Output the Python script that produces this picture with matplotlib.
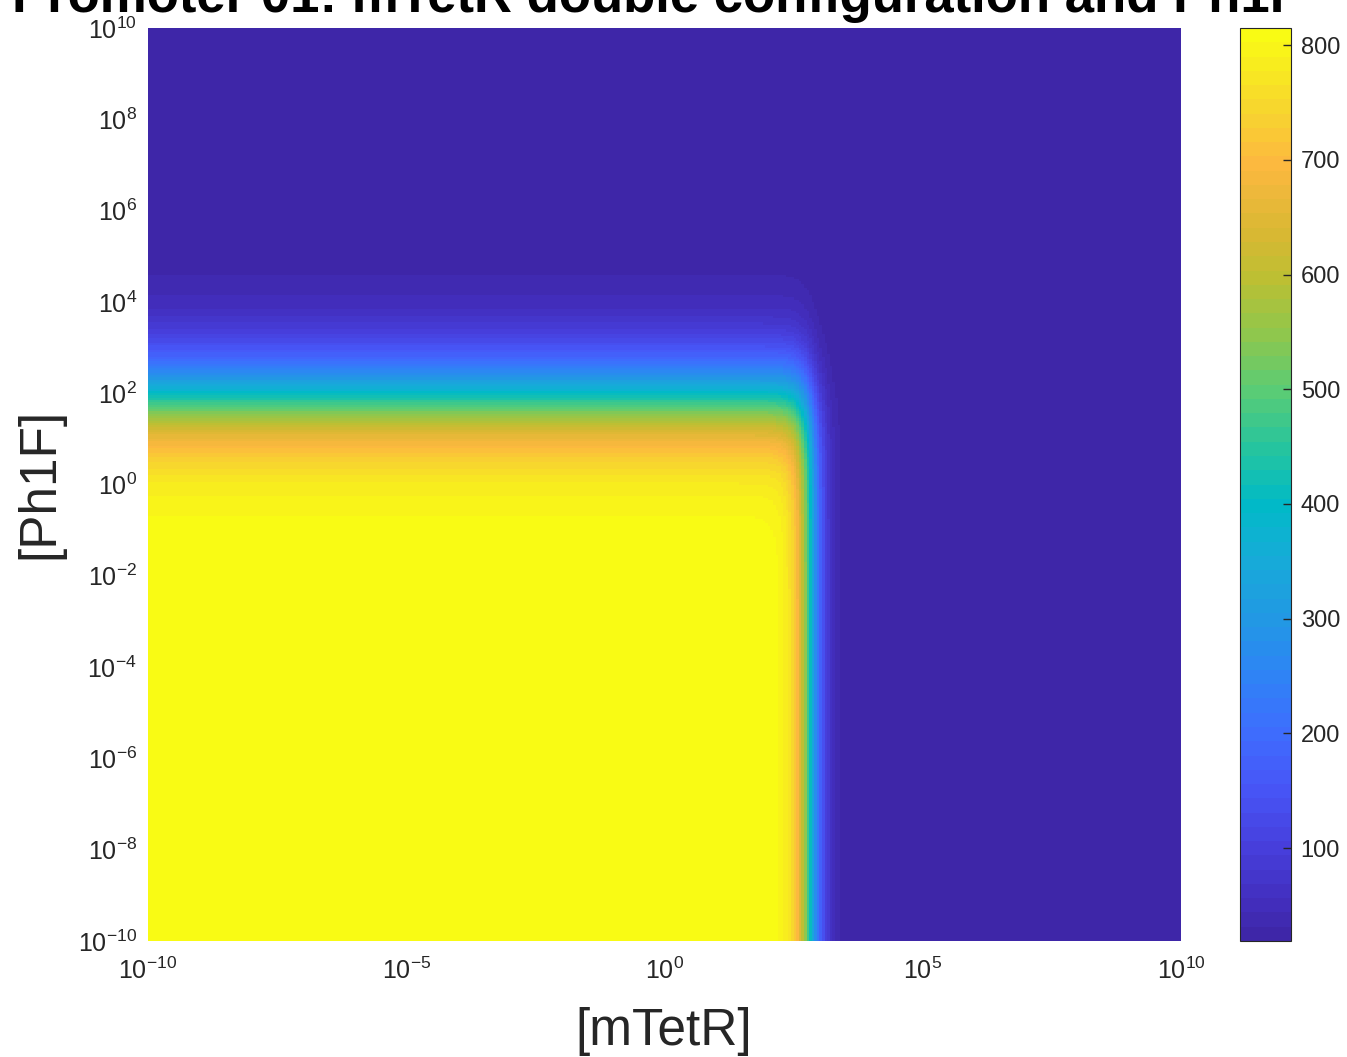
import numpy as np
import matplotlib.pyplot as plt
from matplotlib.colors import LinearSegmentedColormap

plt.rcParams['font.family'] = ['Liberation Sans', 'DejaVu Sans']
plt.rcParams['mathtext.fontset'] = 'custom'
plt.rcParams['mathtext.rm'] = 'Liberation Sans'

# response model (Hill repression in both inputs)
f_min = 19.0
f_max = 815.0
log_K_mtetr = 2.82
n_mtetr = 3.0
log_K_ph1f = 1.95
n_ph1f = 0.68

log_range = [-10, 10]
x_ticks = [1e-10, 1e-5, 1e0, 1e5, 1e10]
x_ticklabels = [r'$\mathregular{10^{-10}}$', r'$\mathregular{10^{-5}}$', r'$\mathregular{10^{0}}$',
                r'$\mathregular{10^{5}}$', r'$\mathregular{10^{10}}$']
y_ticks = [10.0 ** k for k in range(-10, 11, 2)]
y_ticklabels = [r'$\mathregular{10^{%d}}$' % k for k in range(-10, 11, 2)]
cbar_ticks = [100, 200, 300, 400, 500, 600, 700, 800]

title = 'Promoter 01: mTetR double configuration and Ph1F'

# parula-like colormap
parula_pos = [0.0, 0.04, 0.10, 0.165, 0.227, 0.29, 0.353, 0.416, 0.479, 0.541,
              0.604, 0.667, 0.73, 0.78, 0.855, 0.918, 1.0]
parula_rgb = [(0.243, 0.150, 0.660), (0.262, 0.185, 0.750), (0.278, 0.250, 0.870),
              (0.280, 0.340, 0.970), (0.240, 0.430, 0.995), (0.180, 0.520, 0.960),
              (0.130, 0.600, 0.890), (0.090, 0.670, 0.850), (0.000, 0.730, 0.780),
              (0.150, 0.770, 0.620), (0.350, 0.800, 0.460), (0.560, 0.780, 0.300),
              (0.740, 0.750, 0.200), (0.850, 0.720, 0.200), (0.990, 0.720, 0.250),
              (0.970, 0.840, 0.180), (0.976, 0.984, 0.080)]
cmap = LinearSegmentedColormap.from_list('parula', list(zip(parula_pos, parula_rgb)), N=64)

n = 400
edges = np.logspace(log_range[0], log_range[1], n + 1)
centers = np.sqrt(edges[:-1] * edges[1:])
X, Y = np.meshgrid(centers, centers)
g = 1.0 / (1.0 + (X / 10 ** log_K_mtetr) ** n_mtetr)
h = 1.0 / (1.0 + (Y / 10 ** log_K_ph1f) ** n_ph1f)
Z = f_min + (f_max - f_min) * g * h

W, H = 1347, 1057
fig = plt.figure(figsize=(W / 100, H / 100), dpi=100)
ax = fig.add_axes([148 / W, 1 - 941 / H, (1181 - 148) / W, (941 - 28) / H])
cax = fig.add_axes([1240 / W, 1 - 941 / H, 51 / W, (941 - 28) / H])

mesh = ax.pcolormesh(edges, edges, Z, cmap=cmap, vmin=f_min, vmax=f_max, shading='flat')
ax.set_xscale('log')
ax.set_yscale('log')
ax.set_xlim(edges[0], edges[-1])
ax.set_ylim(edges[0], edges[-1])
ax.set_xticks(x_ticks)
ax.set_xticklabels(x_ticklabels)
ax.set_yticks(y_ticks)
ax.set_yticklabels(y_ticklabels)
ax.minorticks_off()
ax.tick_params(axis='both', length=0, labelsize=18, colors='#262626')
ax.tick_params(axis='x', pad=12)
ax.tick_params(axis='y', pad=8)
for s in ax.spines.values():
    s.set_visible(False)

cb = fig.colorbar(mesh, cax=cax)
cb.set_ticks(cbar_ticks)
cb.ax.tick_params(direction='in', length=6, width=1, labelsize=17, colors='#262626', pad=7)
cb.outline.set_edgecolor('#262626')
cb.outline.set_linewidth(0.8)
cb.ax.minorticks_off()

fig.text(664 / W, 1 - 1031 / H, '[mTetR]', ha='center', va='center', fontsize=37, color='#262626')
fig.text(40 / W, 1 - 483 / H, '[Ph1F]', ha='center', va='center', rotation=90, fontsize=37, color='#262626')
fig.text(657 / W, 1 - 12 / H, title, ha='center', va='baseline', fontsize=38, weight='bold')

fig.savefig('out.png', dpi=100)
